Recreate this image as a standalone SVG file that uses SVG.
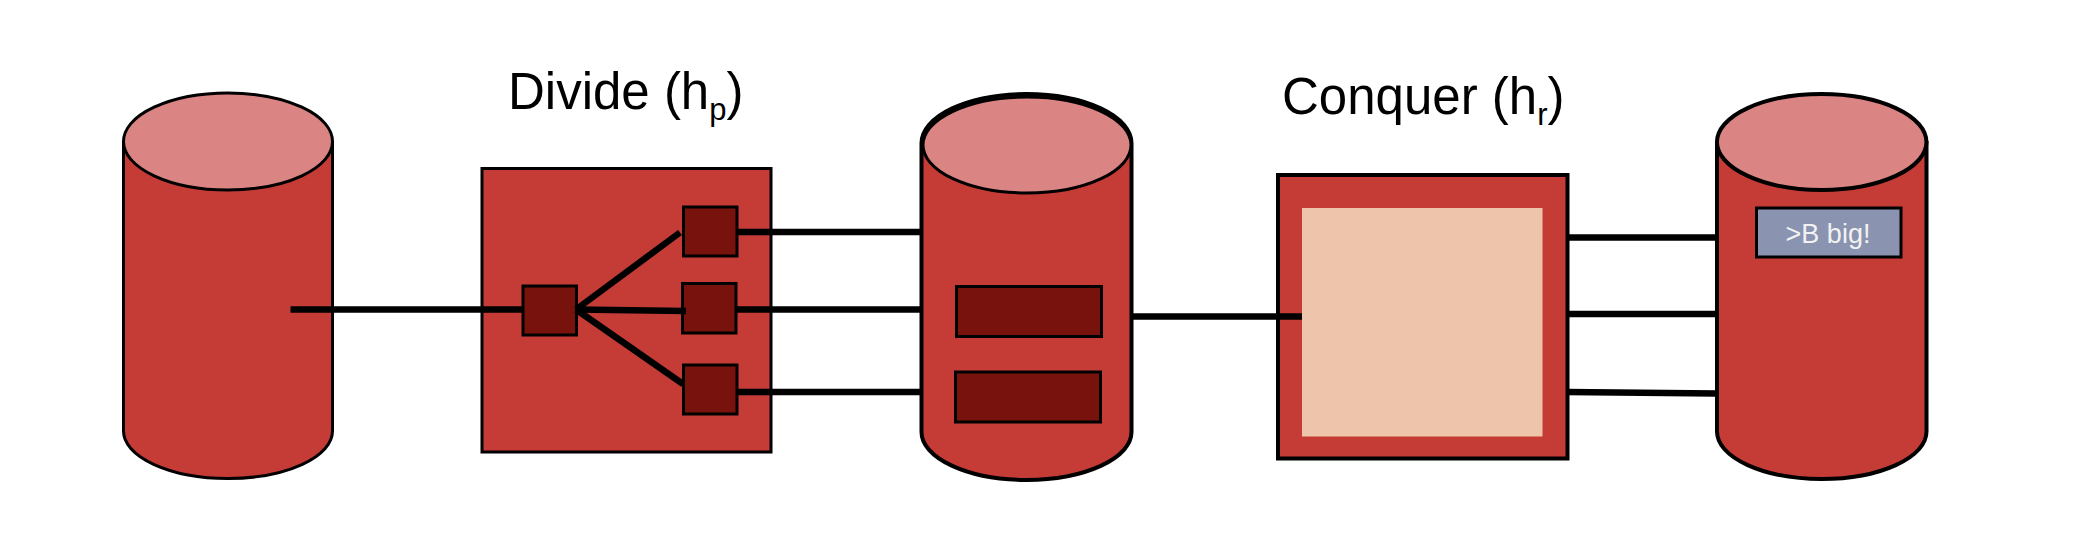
<svg xmlns="http://www.w3.org/2000/svg" width="2074" height="554" viewBox="0 0 2074 554">
<defs>
<style>
.body{fill:#C53C37;stroke:#000;stroke-width:3}
.top{fill:#DA8483;stroke:#000;stroke-width:3}
.dark{fill:#78120C;stroke:#000;stroke-width:3}
.box{fill:#C53C37;stroke:#000;stroke-width:3}
.conn{fill:none;stroke:#000;stroke-width:6.500}
.label{font-family:"Liberation Sans",Arial,sans-serif;font-size:51px;fill:#000}
.sub{font-size:31px}
.note{font-family:"Liberation Sans",Arial,sans-serif;font-size:27px;fill:#F2F2F2;text-anchor:middle}
</style>
</defs>
<rect width="2074" height="554" fill="#fff"/>
<g id="store-input">
<path class="body" d="M123.500 142V431A104.500 47.500 0 0 0 332.500 431V142Z"/>
<ellipse class="top" cx="228" cy="141.500" rx="104.500" ry="48.500"/>
</g>
<g id="divide">
<text class="label" x="508" y="109">Divide (h<tspan class="sub" dy="11">p</tspan><tspan dy="-11">)</tspan></text>
<rect class="box" x="482" y="168.500" width="289" height="283.500"/>
<rect class="dark" x="523" y="286" width="53.500" height="49"/>
<rect class="dark" x="683.500" y="207" width="53.500" height="49"/>
<rect class="dark" x="682.500" y="283.500" width="53.500" height="49.500"/>
<rect class="dark" x="683.500" y="365" width="53.500" height="49"/>
</g>
<g id="store-partitioned">
<path class="body" style="stroke-width:4" d="M921.500 143V432A105 48 0 0 0 1131.500 432V143A105 49 0 0 0 921.500 143Z"/>
<ellipse class="top" cx="1027" cy="145" rx="104" ry="48"/>
<rect class="dark" x="956.500" y="286.500" width="145" height="50"/>
<rect class="dark" x="955.500" y="372" width="145" height="50"/>
</g>
<g id="conquer">
<text class="label" x="1282" y="114">Conquer (h<tspan class="sub" dy="11">r</tspan><tspan dy="-11">)</tspan></text>
<rect class="box" style="stroke-width:4" x="1278" y="175" width="289.500" height="283.500"/>
<rect x="1302" y="208" width="240.500" height="228.500" fill="#EEC4AB"/>
</g>
<g id="store-output">
<path class="body" style="stroke-width:4" d="M1717 143V431.500A104.750 47.500 0 0 0 1926.500 431.500V143Z"/>
<ellipse class="top" style="stroke-width:4" cx="1821.700" cy="142" rx="104.750" ry="48"/>
<rect class="box" style="fill:#8A94B0" x="1756.500" y="208" width="144.500" height="49"/>
<text class="note" x="1828" y="242.500">&gt;B big!</text>
</g>
<g id="connectors">
<path class="conn" d="M290.500 309.500H523"/>
<path class="conn" d="M576 309.500L680 232.500"/>
<path class="conn" d="M576 309.500L686 311"/>
<path class="conn" d="M576 309.500L683 384"/>
<path class="conn" d="M737 232H921"/>
<path class="conn" d="M736 309.500H921"/>
<path class="conn" d="M737 392H921"/>
<path class="conn" d="M1132 316.500H1302"/>
<path class="conn" d="M1567 237.500H1716"/>
<path class="conn" d="M1567 314H1716"/>
<path class="conn" d="M1567 392L1716 393.500"/>
</g>
</svg>
